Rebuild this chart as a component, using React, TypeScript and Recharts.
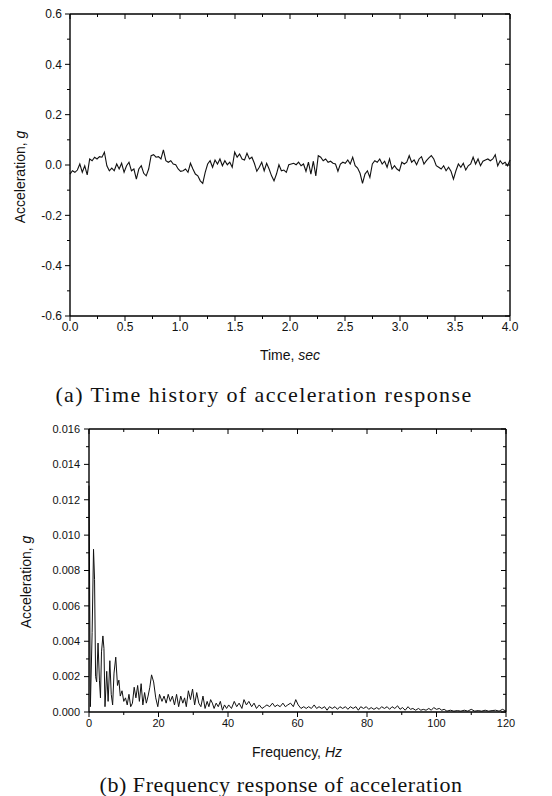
import { LineChart, Line, XAxis, YAxis } from 'recharts';

// (a) time history, sampled evenly from 0 to 4 sec
const ACC = [
  -0.036, -0.023, -0.029, -0.020, 0.004, -0.029, -0.003, -0.039, 0.024, 0.017,
  0.031, 0.024, 0.033, 0.031, 0.051, -0.003, -0.023, -0.012, -0.023, 0.004,
  -0.016, 0.007, -0.029, -0.003, 0.011, -0.023, -0.016, -0.056, -0.016, -0.003,
  -0.033, -0.043, -0.016, 0.037, 0.041, 0.031, 0.033, 0.024, 0.060, 0.017,
  0.011, 0.017, 0.004, 0.001, -0.016, -0.025, -0.023, -0.016, -0.029, 0.007,
  -0.016, -0.036, -0.043, -0.063, -0.073, -0.029, 0.004, 0.017, -0.009, 0.020,
  0.004, 0.024, -0.003, 0.017, 0.001, 0.011, -0.009, 0.051, 0.031, 0.044,
  0.024, 0.020, 0.047, 0.024, 0.031, 0.007, -0.025, -0.009, 0.011, -0.023,
  0.007, -0.016, -0.043, -0.063, -0.036, 0.001, -0.023, -0.020, -0.029, 0.001,
  0.004, 0.007, 0.001, 0.011, -0.003, 0.004, -0.025, 0.011, -0.036, 0.015,
  -0.043, 0.037, 0.031, 0.017, 0.024, 0.011, 0.015, 0.007, 0.004, -0.025,
  0.004, 0.011, 0.007, 0.020, 0.004, 0.031, -0.003, -0.012, -0.033, -0.073,
  -0.036, -0.023, -0.049, 0.004, 0.017, 0.011, 0.024, 0.004, 0.015, -0.009,
  0.024, -0.016, -0.003, -0.016, -0.023, 0.011, 0.004, 0.011, 0.037, 0.011,
  0.020, 0.001, 0.024, 0.033, 0.004, 0.017, 0.028, 0.037, 0.024, -0.003,
  -0.009, -0.016, -0.003, -0.023, -0.009, -0.025, -0.056, -0.023, 0.004, -0.009,
  0.007, -0.020, -0.003, 0.004, 0.031, 0.004, 0.024, -0.003, 0.015, 0.020,
  0.024, 0.017, 0.024, 0.041, -0.003, 0.017, 0.004, 0.011, -0.003, 0.020,
];
const DURATION = 4;

// (b) frequency response
const FREQ = [
  0, 0.4, 0.9, 1.3, 1.6, 1.9, 2.2, 2.6, 3.0, 3.3, 3.6, 4.0, 4.3, 4.6, 5.1, 5.5, 6.0, 6.4, 6.8, 7.2,
  7.7, 8.2, 8.6, 9.0, 9.5, 10, 10.5, 11, 11.5, 12, 12.5, 13, 13.5, 14, 14.5, 15, 15.5, 16, 16.5, 17,
  17.5, 18, 18.6, 19.2, 19.8, 20.3, 21, 21.6, 22.2, 22.8, 23.4, 24, 24.6, 25.2, 25.8, 26.4, 27, 27.5, 28, 28.6,
  29.2, 29.8, 30.4, 31, 31.6, 32.2, 32.8, 33.4, 34, 34.5, 35, 35.5, 36, 36.6, 37.2, 37.8, 38.4, 39, 39.6, 40.2,
  41, 41.8, 42.5, 43.2, 44, 44.6, 45.3, 46, 46.8, 47.5, 48.2, 49, 49.8, 50.5, 51.2, 52, 52.8, 53.5, 54.2, 55,
  55.8, 56.5, 57.2, 58, 58.8, 59.5, 60.2, 61, 61.8, 62.5, 63.2, 64, 64.8, 65.5, 66.2, 67, 67.8, 68.5, 69.2, 70,
  70.8, 71.5, 72.2, 73, 73.8, 74.5, 75.2, 76, 76.8, 77.5, 78.2, 79, 79.8, 80.5, 81.2, 82, 82.8, 83.5, 84.2, 85,
  85.8, 86.5, 87.2, 88, 88.8, 89.5, 90.2, 91, 91.8, 92.5, 93.2, 94, 94.8, 95.5, 96.2, 97, 97.8, 98.5, 99.2, 100,
  100.8, 101.5, 102.2, 103, 104, 105, 106, 107, 108, 109, 110, 111, 112, 113, 114, 115, 116, 117, 118, 119, 120,
];
const AMP = [
  0.0128, 0.0003, 0.0045, 0.0092, 0.0075, 0.0020, 0.0017, 0.0039, 0.0018, 0.0008, 0.0034, 0.0043, 0.0036, 0.0003, 0.0023, 0.0006, 0.0029, 0.0010, 0.0004, 0.0022,
  0.0031, 0.0015, 0.0018, 0.0009, 0.0012, 0.0006, 0.0008, 0.0004, 0.0010, 0.0003, 0.0005, 0.0014, 0.0008, 0.0015, 0.0006, 0.0016, 0.0004, 0.0011, 0.0005, 0.0009,
  0.0014, 0.0021, 0.0017, 0.0008, 0.0003, 0.0010, 0.0006, 0.0009, 0.0005, 0.0010, 0.0006, 0.0009, 0.0004, 0.0010, 0.0003, 0.0009, 0.0005, 0.0008, 0.0003, 0.0012,
  0.0007, 0.0013, 0.0004, 0.0011, 0.0005, 0.0003, 0.0009, 0.0002, 0.0006, 0.0003, 0.0007, 0.0005, 0.0002, 0.0005, 0.0003, 0.0006, 0.0001, 0.0004, 0.0002, 0.0004,
  0.0002, 0.0006, 0.0003, 0.0005, 0.0002, 0.0007, 0.0004, 0.0006, 0.0003, 0.0005, 0.0002, 0.0004, 0.0002, 0.0003, 0.0004, 0.0003, 0.0005, 0.0003, 0.0004, 0.0003,
  0.0005, 0.0003, 0.0004, 0.0005, 0.0003, 0.0007, 0.0004, 0.0002, 0.0003, 0.0002, 0.0003, 0.0002, 0.0004, 0.0002, 0.0003, 0.0002, 0.0003, 0.0001, 0.0003, 0.0002,
  0.0003, 0.00015, 0.0003, 0.0002, 0.0003, 0.00015, 0.0003, 0.0002, 0.0003, 0.0001, 0.0003, 0.0002, 0.0003, 0.00015, 0.00025, 0.00015, 0.00025, 0.00015, 0.0003, 0.0002,
  0.0003, 0.00015, 0.0003, 0.0002, 0.00035, 0.00015, 0.00025, 0.0001, 0.0003, 0.00015, 0.0002, 0.0001, 0.0002, 0.0001, 0.00015, 0.0001, 0.0002, 0.0001, 0.00025, 0.00015,
  0.0002, 0.0001, 0.00015, 0.00005, 0.0001, 0.00005, 0.00008, 0.00005, 0.0001, 0.00005, 0.00015, 0.00005, 0.00008, 0.00005, 0.0001, 0.00005, 0.00008, 0.0001, 0.00005, 0.00015, 0.00005,
];

const TIME_TICKS = [0, 0.25, 0.5, 0.75, 1, 1.25, 1.5, 1.75, 2, 2.25, 2.5, 2.75, 3, 3.25, 3.5, 3.75, 4];
const ACC_TICKS = [-0.6, -0.5, -0.4, -0.3, -0.2, -0.1, 0, 0.1, 0.2, 0.3, 0.4, 0.5, 0.6];
const FREQ_TICKS = [0, 10, 20, 30, 40, 50, 60, 70, 80, 90, 100, 110, 120];
const AMP_TICKS = [0, 0.001, 0.002, 0.003, 0.004, 0.005, 0.006, 0.007, 0.008, 0.009, 0.01, 0.011, 0.012, 0.013, 0.014, 0.015, 0.016];

const accData = ACC.map((a, i) => ({ t: (i * DURATION) / (ACC.length - 1), a }));
const freqData = FREQ.map((f, i) => ({ f, a: AMP[i] }));

const FONT = '"Liberation Sans", Arial, sans-serif';
const frame = { stroke: '#000', strokeWidth: 1.4 };

// draws tick marks itself (major longer than minor), labels only majors on left/bottom
function FrameTick(props: any) {
  const { x, y, payload, side, step, digits, fontSize, gap } = props;
  const v = payload.value;
  const major = Math.abs(v / step - Math.round(v / step)) < 1e-6;
  const len = major ? 5 : 3;
  const vertical = side === 'left' || side === 'right';
  const showLabel = major && (side === 'left' || side === 'bottom');
  return (
    <g>
      {vertical ? (
        <line x1={x - len} x2={x} y1={y} y2={y} stroke="#000" strokeWidth={1} />
      ) : (
        <line x1={x} x2={x} y1={y} y2={y + len} stroke="#000" strokeWidth={1} />
      )}
      {showLabel && side === 'left' && (
        <text x={x - gap} y={y} dy="0.35em" textAnchor="end" fontSize={fontSize} fontFamily={FONT} fill="#111">
          {v.toFixed(digits)}
        </text>
      )}
      {showLabel && side === 'bottom' && (
        <text x={x} y={y + gap} textAnchor="middle" fontSize={fontSize} fontFamily={FONT} fill="#111">
          {v.toFixed(digits)}
        </text>
      )}
    </g>
  );
}

function tickFor(side: string, step: number, digits: number, fontSize: number, gap: number) {
  return (p: any) => <FrameTick {...p} side={side} step={step} digits={digits} fontSize={fontSize} gap={gap} />;
}

const axisCommon = { tickSize: 0, tickMargin: 0, tickLine: false, axisLine: frame, interval: 0 as const };

function Text({ x, y, rotate, size, family, spacing, children }: any) {
  return (
    <div
      style={{
        position: 'absolute',
        left: x,
        top: y,
        transform: `translate(-50%, -50%)${rotate ? ' rotate(-90deg)' : ''}`,
        whiteSpace: 'nowrap',
        fontSize: size,
        fontFamily: family,
        letterSpacing: spacing ?? 0,
        color: '#111',
        lineHeight: 1,
      }}
    >
      {children}
    </div>
  );
}

export default function App() {
  return (
    <div style={{ position: 'absolute', left: 0, top: 0, width: 552, height: 796, background: '#fff' }}>
      <div style={{ position: 'absolute', left: 0, top: 0 }}>
        <LineChart width={552} height={370} data={accData} margin={{ top: 13, right: 41, bottom: 0, left: 0 }}>
          <XAxis dataKey="t" type="number" domain={[0, 4]} ticks={TIME_TICKS} height={54} {...axisCommon} tick={tickFor('bottom', 0.5, 1, 12, 15)} />
          <XAxis xAxisId="top" dataKey="t" orientation="top" type="number" domain={[0, 4]} ticks={TIME_TICKS} height={1} {...axisCommon} tick={tickFor('top', 0.5, 1, 12, 0)} />
          <YAxis type="number" domain={[-0.6, 0.6]} ticks={ACC_TICKS} width={70} {...axisCommon} tick={tickFor('left', 0.2, 1, 12, 8)} />
          <YAxis yAxisId="right" orientation="right" type="number" domain={[-0.6, 0.6]} ticks={ACC_TICKS} width={1} {...axisCommon} tick={tickFor('right', 0.2, 1, 12, 0)} />
          {/* invisible series so the mirrored frame axes are drawn */}
          <Line xAxisId="top" yAxisId="right" dataKey="a" stroke="none" dot={false} activeDot={false} isAnimationActive={false} />
          <Line type="linear" dataKey="a" dot={false} stroke="#111" strokeWidth={1.1} isAnimationActive={false} />
        </LineChart>
      </div>
      <Text x={20} y={177} rotate size={14} family={FONT}>
        Acceleration, <i>g</i>
      </Text>
      <Text x={290} y={355} size={14} family={FONT}>
        Time, <i>sec</i>
      </Text>
      <Text x={264} y={395} size={22} family='"Liberation Serif", serif' spacing={1.4}>
        (a) Time history of acceleration response
      </Text>

      <div style={{ position: 'absolute', left: 0, top: 415 }}>
        <LineChart width={552} height={347} data={freqData} margin={{ top: 13, right: 45, bottom: 0, left: 0 }}>
          <XAxis dataKey="f" type="number" domain={[0, 120]} ticks={FREQ_TICKS} height={50} {...axisCommon} tick={tickFor('bottom', 20, 0, 11, 15)} />
          <XAxis xAxisId="top" dataKey="f" orientation="top" type="number" domain={[0, 120]} ticks={FREQ_TICKS} height={1} {...axisCommon} tick={tickFor('top', 20, 0, 11, 0)} />
          <YAxis type="number" domain={[0, 0.016]} ticks={AMP_TICKS} width={89} {...axisCommon} tick={tickFor('left', 0.002, 3, 11, 9)} />
          <YAxis yAxisId="right" orientation="right" type="number" domain={[0, 0.016]} ticks={AMP_TICKS} width={1} {...axisCommon} tick={tickFor('right', 0.002, 3, 11, 0)} />
          <Line xAxisId="top" yAxisId="right" dataKey="a" stroke="none" dot={false} activeDot={false} isAnimationActive={false} />
          <Line type="linear" dataKey="a" dot={false} stroke="#111" strokeWidth={1} isAnimationActive={false} />
        </LineChart>
      </div>
      <Text x={26} y={582} rotate size={14} family={FONT}>
        Acceleration, <i>g</i>
      </Text>
      <Text x={297} y={752} size={14} family={FONT}>
        Frequency, <i>Hz</i>
      </Text>
      <Text x={281} y={785} size={22} family='"Liberation Serif", serif' spacing={0.55}>
        (b) Frequency response of acceleration
      </Text>
    </div>
  );
}
